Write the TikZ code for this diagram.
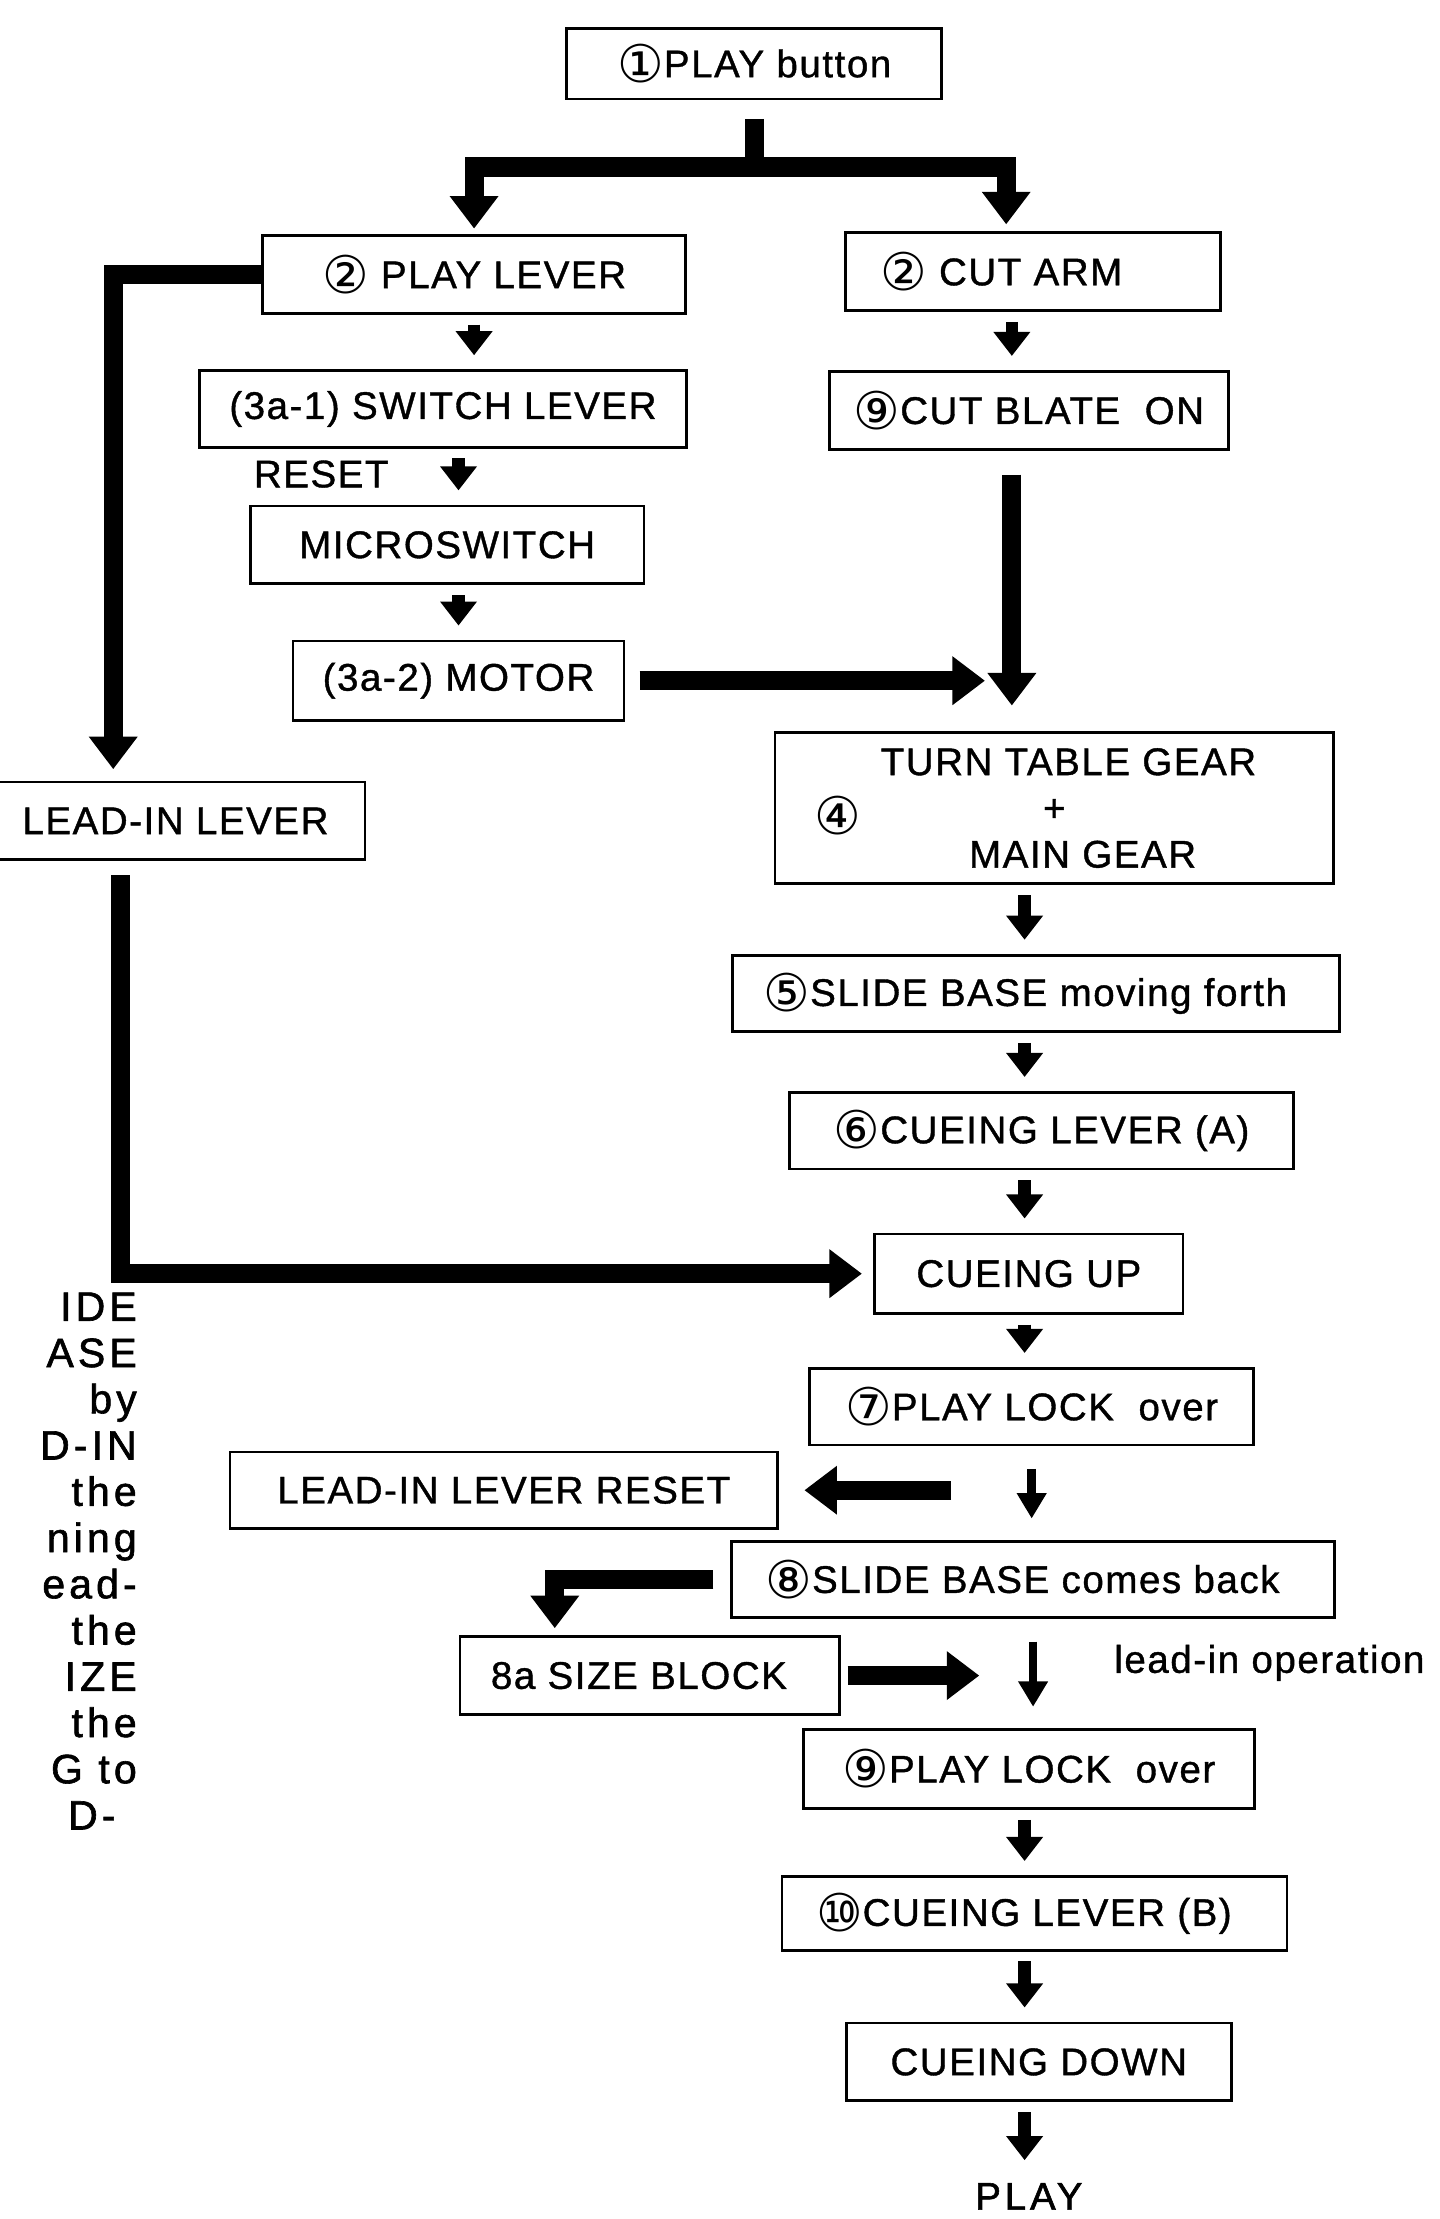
\documentclass[tikz,border=0pt]{standalone}
\usepackage{fontspec}
\setmainfont{Liberation Sans}[LetterSpace=4,FakeBold=1]
\newfontfamily\circfont{DejaVu Sans}[Scale=1.35]
\newfontfamily\notefont{Liberation Sans}[LetterSpace=10,FakeBold=1.5]
\usepackage{tikz}
\usetikzlibrary{arrows.meta,positioning}
\newcommand{\stepno}[1]{\raisebox{-0.14em}{\circfont #1}}
\tikzset{box/.style={          % Framed box for each part of the mechanism
           draw,
           line width=1.1pt,
           inner sep=0pt,
           minimum height=1.1cm,
           font=\fontsize{15.5}{18.6}\selectfont},
         tag/.style={          % Loose text, no frame
           font=\fontsize{15.5}{18.6}\selectfont},
         flow/.style={         % Short arrow from one box to the next
           draw,
           line width=0.18cm,
           -{Triangle[width=0.5cm,length=0.34cm]},
           shorten <=0.14cm,
           shorten >=0.2cm},
         thinflow/.style={     % Slim arrow of the lead-in part
           draw,
           line width=0.12cm,
           -{Triangle[width=0.4cm,length=0.36cm]},
           shorten <=0.32cm,
           shorten >=0.3cm},
         bigline/.style={      % Heavy line for the long paths
           draw,
           line width=0.27cm},
         bigflow/.style={
           bigline,
           -{Triangle[width=0.66cm,length=0.46cm]},
           shorten >=0.1cm}}

\begin{document}
\begin{tikzpicture}[x=0.02cm,y=-0.02cm]
\useasboundingbox (0,0) rectangle (1017,1568);

\node[box, minimum width=5.3cm, minimum height=1cm] (playbtn) at (533,45) {\stepno{①}PLAY button};
\node[box, minimum width=5.98cm] (playlev) at (335,194) {\stepno{②} PLAY LEVER};
\node[box, minimum width=5.3cm] (cutarm) at (730,192) {\stepno{②} CUT ARM\hspace*{0.9cm}};
\node[box, minimum width=6.88cm, minimum height=1.08cm] (switchlev) at (313,289) {(3a-1) SWITCH LEVER};
\node[tag] (resetlbl) at (227,335) {RESET};
\node[box, minimum width=5.56cm] (micro) at (316,385) {MICROSWITCH};
\node[box, minimum width=4.68cm, minimum height=1.12cm] (motor) at (324,481) {(3a-2) MOTOR};
\node[box, minimum width=5.64cm] (cutblate) at (727,290) {\stepno{⑨}CUT BLATE\ \ ON};
\node[box, minimum width=7.9cm, minimum height=2.14cm, align=center,
      label={[anchor=west, xshift=0.45cm, yshift=-0.1cm, font=\fontsize{15.5}{18.6}\selectfont]west:\stepno{④}}]
      (gear) at (745,571) {\hspace*{0.4cm}TURN TABLE GEAR\\+\\\hspace*{0.8cm}MAIN GEAR};
\node[box, minimum width=5.36cm] (leadin) at (124,580) {LEAD-IN LEVER};
\node[box, minimum width=8.58cm, minimum height=1.08cm] (slidefwd) at (732,702) {\stepno{⑤}SLIDE BASE moving forth\hspace*{0.3cm}};
\node[box, minimum width=7.12cm, minimum height=1.08cm] (cueleva) at (736,799) {\stepno{⑥}CUEING LEVER (A)};
\node[box, minimum width=4.36cm, minimum height=1.12cm] (cueup) at (727,900) {CUEING UP};
\node[box, minimum width=6.28cm, minimum height=1.08cm] (lockone) at (729,994) {\stepno{⑦}PLAY LOCK\ \ over};
\node[box, minimum width=7.74cm, minimum height=1.08cm] (leadreset) at (356,1053) {LEAD-IN LEVER RESET};
\node[box, minimum width=8.52cm, minimum height=1.08cm] (slideback) at (730,1116) {\stepno{⑧}SLIDE BASE comes back\hspace*{0.3cm}};
\node[box, minimum width=5.36cm] (sizeblk) at (459,1184) {8a SIZE BLOCK\hspace*{0.3cm}};
\node[tag] (leadop) at (897,1175) {lead-in operation};
\node[box, minimum width=6.38cm, minimum height=1.12cm] (locktwo) at (727,1250) {\stepno{⑨}PLAY LOCK\ \ over};
\node[box, minimum width=7.14cm, minimum height=1.04cm] (cuelevb) at (731,1352) {\stepno{⑩}CUEING LEVER (B)\hspace*{0.3cm}};
\node[box, minimum width=5.44cm] (cuedown) at (734,1457) {CUEING DOWN};
\node[tag, font=\notefont\fontsize{15.5}{18.6}\selectfont] (play) at (727,1552) {PLAY};
\node[tag, anchor=north east, inner sep=0pt, align=right, font=\notefont\fontsize{16.5}{18.6}\selectfont]
      (note) at (97,913) {IDE\\ASE\\by\\D-IN\\the\\ning\\ead-\\the\\IZE\\the\\G to\\D-\hspace*{0.3cm}};

\coordinate (split) at (533,118);
\coordinate (spine) at (724,0);
\coordinate (stemtop) at ([xshift=-0.24cm]cutblate.south);
\coordinate (motorjoin) at (696,481);
\coordinate (resetfrom) at (672,1053);
\coordinate (sizejoin) at (692,1184);

\draw[bigline] ([yshift=-0.26cm]playbtn.south) -- (split);
\draw[bigflow, shorten >=0.08cm] (split) -| (playlev.north);
\draw[bigflow, shorten >=0.1cm] (split) -| ([xshift=-0.38cm]cutarm.north);
\draw[bigflow, shorten >=0.16cm] (playlev.west) -| ([xshift=-0.88cm]leadin.north);
\draw[flow] (playlev.south) -- (playlev.south |- switchlev.north);
\draw[flow] (motor.north |- switchlev.south) -- (motor.north |- micro.north);
\draw[flow] (motor.north |- micro.south) -- (motor.north);
\draw[bigflow, shorten <=0.2cm, shorten >=0pt] (motor.east) -- (motorjoin);
\draw[flow] (stemtop |- cutarm.south) -- (stemtop |- cutblate.north);
\draw[bigflow, shorten <=0.34cm, shorten >=0.36cm] (stemtop) -- (stemtop |- gear.north);
\draw[bigflow, shorten <=0.2cm, shorten >=0.16cm] ([xshift=-0.78cm]leadin.south) |- (cueup.west);
\draw[flow] (spine |- gear.south) -- (spine |- slidefwd.north);
\draw[flow] (spine |- slidefwd.south) -- (spine |- cueleva.north);
\draw[flow] (spine |- cueleva.south) -- (spine |- cueup.north);
\draw[flow] (spine |- cueup.south) -- (spine |- lockone.north);
\draw[thinflow] (lockone.south) -- (lockone.south |- slideback.north);
\draw[bigflow, shorten >=0.36cm] (resetfrom) -- (resetfrom -| leadreset.east);
\draw[bigflow, shorten <=0.24cm, shorten >=0.1cm] (slideback.west) -| ([xshift=-1.34cm]sizeblk.north);
\draw[bigflow, shorten <=0.1cm, shorten >=0pt] (sizeblk.east) -- (sizejoin);
\draw[thinflow] (slideback.south) -- (slideback.south |- locktwo.north);
\draw[flow] (spine |- locktwo.south) -- (spine |- cuelevb.north);
\draw[flow] (spine |- cuelevb.south) -- (spine |- cuedown.north);
\draw[flow] (spine |- cuedown.south) -- (spine |- play.north);

\end{tikzpicture}
\end{document}
